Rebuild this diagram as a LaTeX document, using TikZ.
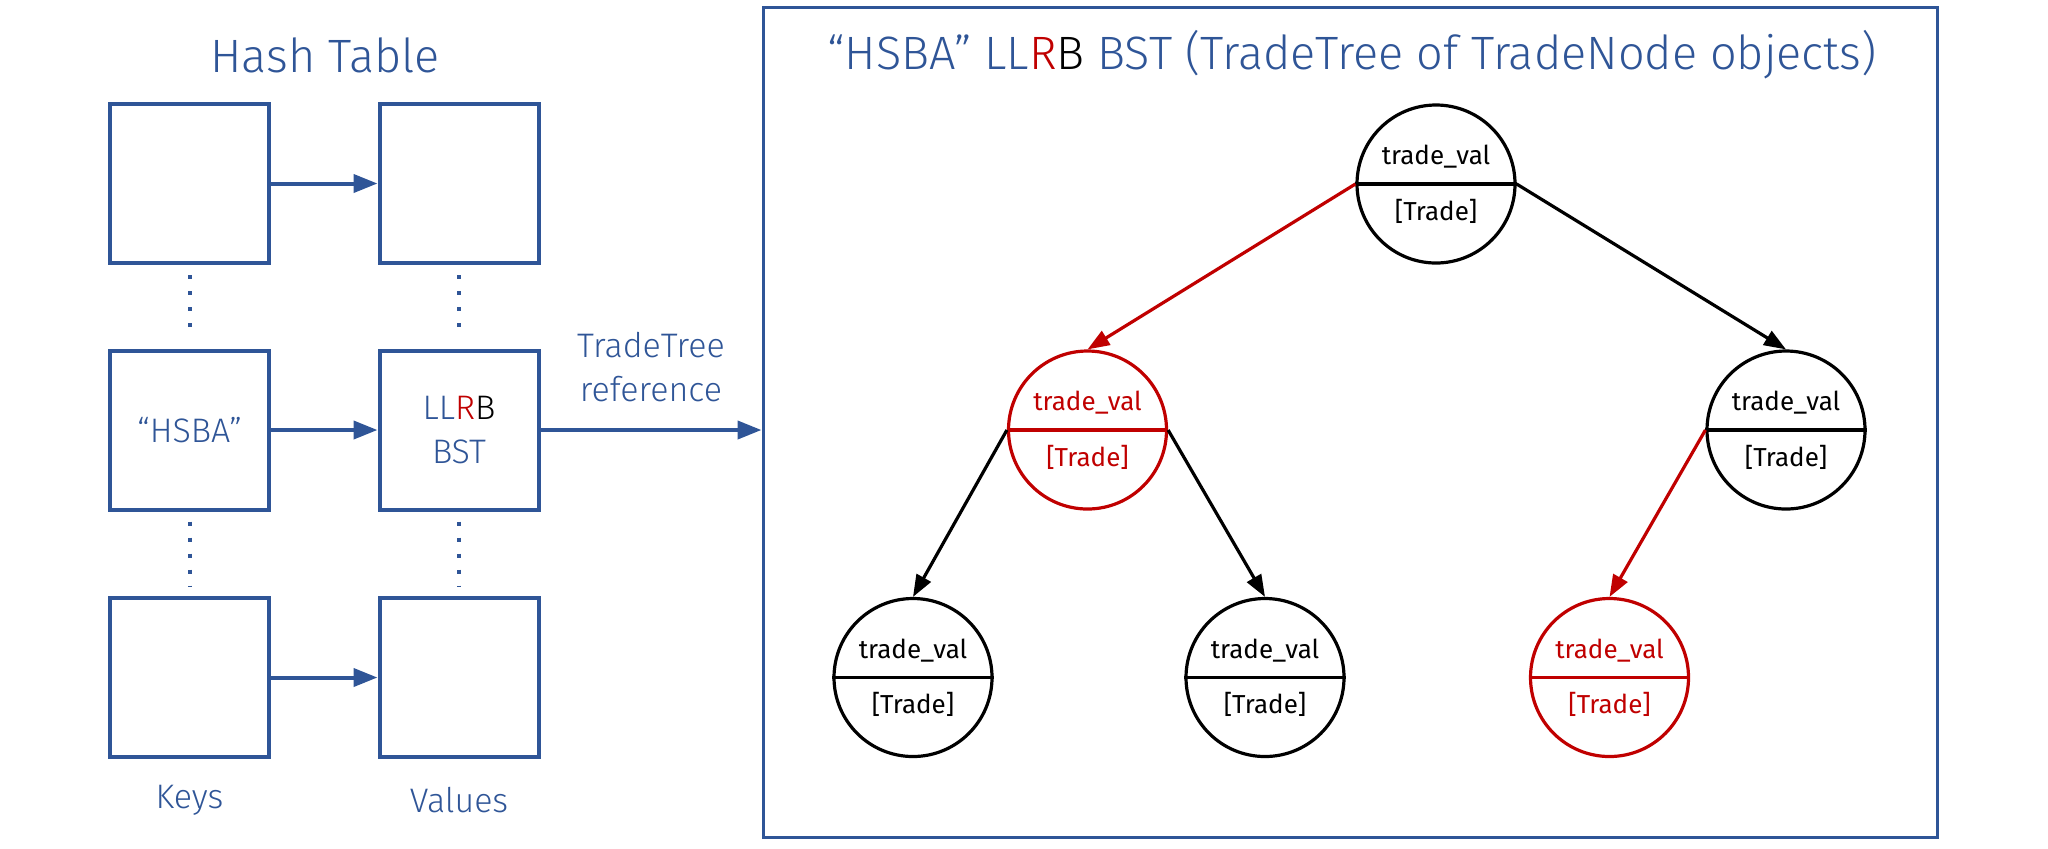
\documentclass[tikz,border=0pt]{standalone}
\usepackage{fontspec}
\setmainfont{Fira Sans Light}
\newfontfamily\regfont{Fira Sans}
\usetikzlibrary{arrows.meta}
\definecolor{hblue}{HTML}{2F5597}
\definecolor{hred}{HTML}{C00000}
\tikzset{
  keybox/.style={draw=hblue, line width=2pt, minimum width=79.5pt, minimum height=79.5pt, inner sep=0pt, text=hblue, font=\fontsize{17}{22}\selectfont, align=center},
  bigbox/.style={draw=hblue, line width=1.5pt, minimum width=587pt, minimum height=415pt, inner sep=0pt},
  barrow/.style={draw=hblue, line width=2pt, -{Triangle[length=12pt,width=9pt]}},
  dotline/.style={draw=hblue, line width=2pt, dash pattern=on 2pt off 6pt},
  ttitle/.style={text=hblue, font=\fontsize{23.4}{28}\selectfont, inner sep=0pt},
  tlabel/.style={text=hblue, font=\fontsize{17}{22}\selectfont, inner sep=0pt, align=center},
  tcirc/.style={circle, line width=1.6pt, minimum size=79pt, inner sep=0pt, fill=white},
  ttxt/.style={font=\regfont\fontsize{13}{15}\selectfont, inner sep=0pt},
  tedge/.style={line width=1.6pt, -{Triangle[length=11pt,width=8pt]}}
}
\newcommand{\TN}[4]{%
  \node[tcirc,draw=#4] (#1) at (#2,#3) {};
  \draw[#4,line width=1.8pt] (#1.west) -- (#1.east);
  \node[ttxt,text=#4] (#1-v) at ([yshift=13.5pt]#1.center) {trade\_val};
  \node[ttxt,text=#4] (#1-t) at ([yshift=-13.5pt]#1.center) {[Trade]};%
}
\begin{document}
\begin{tikzpicture}[x=0.5pt,y=-0.5pt]
\useasboundingbox (0,0) rectangle (2048,848);
% Hash table
\node[ttitle] (ht) at (325,55) {Hash Table};
\node[keybox] (k1) at (189.5,183.5) {};
\node[keybox] (k2) at (189.5,430) {“HSBA”};
\node[keybox] (k3) at (189.5,677.5) {};
\node[keybox] (v1) at (459,183.5) {};
\node[keybox] (v2) at (459,430) {LL\textcolor{hred}{R}\textcolor{black}{B}\\BST};
\node[keybox] (v3) at (459,677.5) {};
\node[tlabel] (kl) at (189.5,800) {Keys};
\node[tlabel] (vl) at (459,800) {Values};
\draw[barrow] (k1.east) -- (v1.west);
\draw[barrow] (k2.east) -- (v2.west);
\draw[barrow] (k3.east) -- (v3.west);
\draw[dotline] ([yshift=-5pt]k1.south) -- ([yshift=5pt]k2.north);
\draw[dotline] ([yshift=-5pt]k2.south) -- ([yshift=5pt]k3.north);
\draw[dotline] ([yshift=-5pt]v1.south) -- ([yshift=5pt]v2.north);
\draw[dotline] ([yshift=-5pt]v2.south) -- ([yshift=5pt]v3.north);
% BST box
\node[bigbox] (bst) at (1350,422) {};
\node[ttitle] (bt) at (1352,55) {“HSBA” LL\textcolor{hred}{R}\textcolor{black}{B} BST (TradeTree of TradeNode objects)};
\draw[barrow] (v2.east) -- (v2.east -| bst.west);
\node[tlabel] (ref) at (651,367) {TradeTree\\reference};
% tree
\TN{r}{1436}{184}{black}
\TN{a}{1087.5}{430}{hred}
\TN{b}{1786}{430}{black}
\TN{c}{913}{677.5}{black}
\TN{d}{1265}{677.5}{black}
\TN{e}{1609.5}{677.5}{hred}
\draw[tedge,hred] (r.west) -- (a.north);
\draw[tedge,black] (r.east) -- (b.north);
\draw[tedge,black] (a.west) -- (c.north);
\draw[tedge,black] (a.east) -- (d.north);
\draw[tedge,hred] (b.west) -- (e.north);
\end{tikzpicture}
\end{document}
